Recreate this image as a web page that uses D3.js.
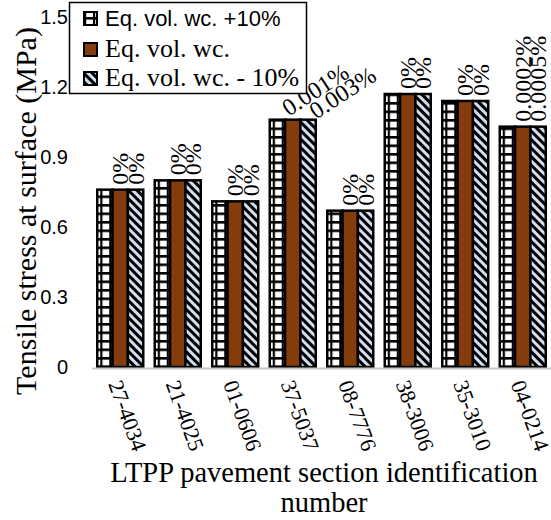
<!DOCTYPE html>
<html>
<head>
<meta charset="utf-8">
<script src="https://cdn.jsdelivr.net/npm/d3@7"></script>
<style>
  html, body { margin: 0; padding: 0; background: #fff; }
  svg { display: block; }
</style>
</head>
<body>
<svg id="chart" width="551" height="520"></svg>
<script>
// LTPP sections and surface tensile stress (MPa) for each water-content case
const categories = ["27-4034", "21-4025", "01-0606", "37-5037", "08-7776", "38-3006", "35-3010", "04-0214"];
const stressPlusTen  = [0.76, 0.80, 0.71, 1.06, 0.67, 1.17, 1.14, 1.03];
const stressBase     = [0.76, 0.80, 0.71, 1.06, 0.67, 1.17, 1.14, 1.03];
const stressMinusTen = [0.76, 0.80, 0.71, 1.06, 0.67, 1.17, 1.14, 1.03];
// percentage change labels shown over the middle and right bars
const changeLabelsA = ["0%", "0%", "0%", "0.001%", "0%", "0%", "0%", "0.0002%"];
const changeLabelsB = ["0%", "0%", "0%", "0.003%", "0%", "0%", "0%", "0.0005%"];
const seriesNames = ["Eq. vol. wc. +10%", "Eq. vol. wc.", "Eq. vol. wc. - 10%"];
const yTicks = [0, 0.3, 0.6, 0.9, 1.2, 1.5];

const series = [stressPlusTen, stressBase, stressMinusTen];
const fills = ["url(#gridPat)", "#843C0C", "url(#stripePat)"];

const svg = d3.select("#chart");
const serif = "'Liberation Serif', 'Times New Roman', serif";
const sans = "'Liberation Sans', Arial, sans-serif";

// fill patterns
const defs = svg.append("defs");
const grid = defs.append("pattern").attr("id", "gridPat")
  .attr("patternUnits", "userSpaceOnUse").attr("width", 9).attr("height", 8.5);
grid.append("rect").attr("width", 9).attr("height", 8.5).attr("fill", "#fff");
grid.append("rect").attr("width", 9).attr("height", 2.6).attr("fill", "#000");
grid.append("rect").attr("x", 3).attr("width", 2.2).attr("height", 8.5).attr("fill", "#000");

const stripe = defs.append("pattern").attr("id", "stripePat")
  .attr("patternUnits", "userSpaceOnUse").attr("width", 6).attr("height", 6)
  .attr("patternTransform", "rotate(-45)");
stripe.append("rect").attr("width", 6).attr("height", 6).attr("fill", "#d3def0");
stripe.append("rect").attr("width", 3).attr("height", 6).attr("fill", "#000");

// scales
const x = d3.scaleBand().domain(categories).range([91.5, 551.5])
  .paddingInner(0.2).paddingOuter(0.1);
const xs = d3.scaleBand().domain([0, 1, 2]).range([0, x.bandwidth()]);
const y = d3.scaleLinear().domain([0, 1.5]).range([367, 17]);

// y axis (labels only)
const yAxis = svg.append("g").attr("transform", "translate(69,0)")
  .call(d3.axisLeft(y).tickValues(yTicks).tickSize(0).tickPadding(1)
    .tickFormat(d => d === 0 ? "0" : d.toFixed(1)));
yAxis.select(".domain").remove();
yAxis.selectAll("text").attr("font-family", sans).attr("font-size", 20).attr("fill", "#000");

// bars
const groups = svg.append("g").selectAll("g").data(categories).join("g")
  .attr("transform", d => `translate(${x(d)},0)`);
series.forEach((vals, si) => {
  groups.append("rect")
    .attr("x", xs(si))
    .attr("y", (d, i) => y(vals[i]))
    .attr("width", xs.bandwidth())
    .attr("height", (d, i) => y(0) - y(vals[i]))
    .attr("fill", fills[si])
    .attr("stroke", "#000").attr("stroke-width", 2.5);
});

// x axis
const xAxis = svg.append("g").attr("transform", "translate(0,368)")
  .call(d3.axisBottom(x).tickSize(0).tickPadding(0));
xAxis.select(".domain").attr("stroke", "#c8c8c8").attr("stroke-width", 2);
xAxis.selectAll("text")
  .attr("font-family", serif).attr("font-size", 22).attr("fill", "#000")
  .attr("text-anchor", "start")
  .attr("dy", "0.35em")
  .attr("transform", "translate(-5,13) rotate(70)")
  .attr("y", 0);

// change labels
const fs = 24;
const slanted = { "37-5037": [[-4, -3], [8, 0]] };
[changeLabelsA, changeLabelsB].forEach((labels, li) => {
  const si = li + 1;
  categories.forEach((cat, i) => {
    const cx = x(cat) + xs(si) + xs.bandwidth() / 2;
    const top = y(series[si][i]);
    const t = svg.append("text").text(labels[i])
      .attr("font-family", serif).attr("font-size", fs).attr("fill", "#000");
    if (slanted[cat]) {
      const [dx, dy] = slanted[cat][li];
      t.attr("transform", `translate(${cx + dx},${top + dy}) rotate(-33)`);
    } else {
      t.attr("transform", `translate(${cx + 0.33 * fs},${top - 5}) rotate(-90)`);
    }
  });
});

// axis titles
svg.append("text").attr("transform", "translate(36,211) rotate(-90)")
  .attr("text-anchor", "middle").attr("font-family", serif).attr("font-size", 30)
  .text("Tensile stress at surface (MPa)");
svg.append("text").attr("x", 324).attr("y", 482)
  .attr("text-anchor", "middle").attr("font-family", serif).attr("font-size", 28.5)
  .text("LTPP pavement section identification");
svg.append("text").attr("x", 324).attr("y", 512)
  .attr("text-anchor", "middle").attr("font-family", serif).attr("font-size", 28.5)
  .text("number");

// legend
const legend = svg.append("g");
legend.append("rect").attr("x", 69.5).attr("y", 2.5).attr("width", 237).attr("height", 91)
  .attr("fill", "#fff").attr("stroke", "#000").attr("stroke-width", 1.5);
const rowBase = [26, 57, 86];
seriesNames.forEach((name, i) => {
  legend.append("rect").attr("x", 84).attr("y", rowBase[i] - 14).attr("width", 13).attr("height", 13)
    .attr("fill", fills[i]).attr("stroke", "#000").attr("stroke-width", 2);
  legend.append("text").attr("x", 105).attr("y", rowBase[i])
    .attr("font-family", i === 0 ? sans : serif).attr("font-size", i === 0 ? 22 : 26)
    .text(name);
});
</script>
</body>
</html>
